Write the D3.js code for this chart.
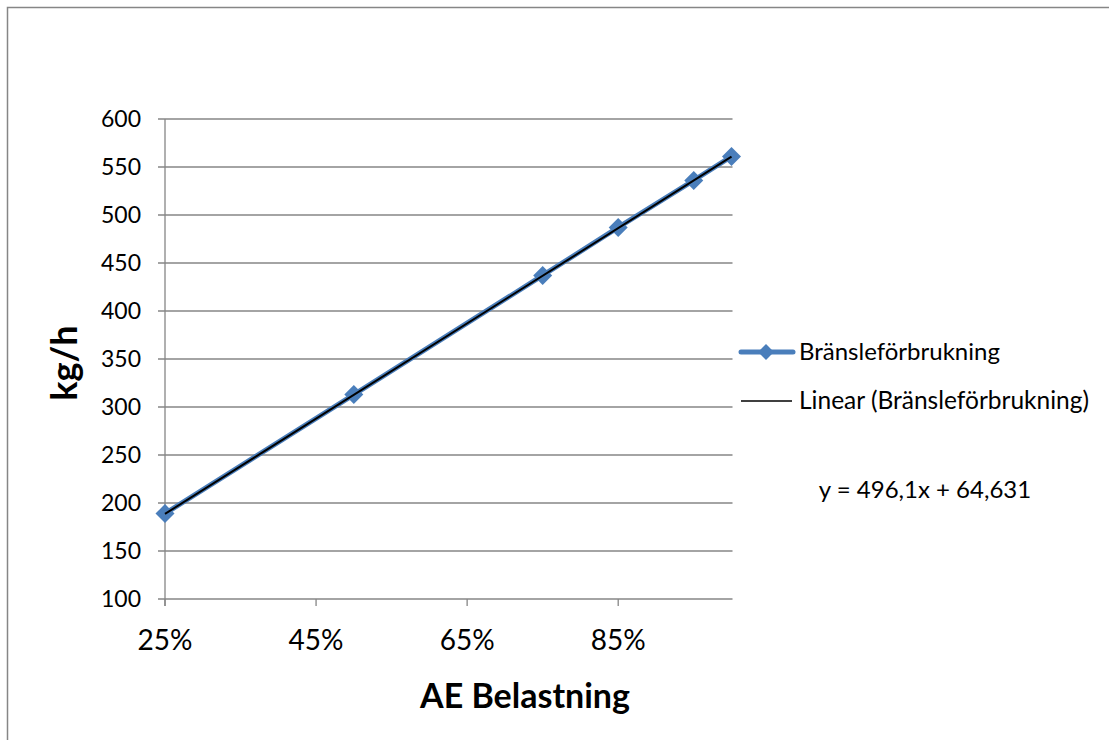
<!DOCTYPE html>
<html><head><meta charset="utf-8">
<script src="https://cdn.jsdelivr.net/npm/d3@7"></script>
<style>body{margin:0;background:#fff}svg{display:block}text{font-family:Lato,"Open Sans",sans-serif}</style>
</head><body><svg id="c" width="1109" height="740"></svg>
<script>
const loads = [0.25, 0.50, 0.75, 0.85, 0.95, 1.00];
const fuel = [189, 313, 437, 487, 536, 561];
const yTicks = [100,150,200,250,300,350,400,450,500,550,600];
const xTicks = [0.25,0.45,0.65,0.85];
const slope = 496.1, intercept = 64.631;
const seriesName = "Bränsleförbrukning";
const trendName = "Linear (Bränsleförbrukning)";
const equation = "y = 496,1x + 64,631";

const svg = d3.select("#c");
svg.append("rect").attr("x",7.5).attr("y",7.5).attr("width",1120).attr("height",760)
  .attr("fill","#fff").attr("stroke","#868686").attr("stroke-width",1.5);

const x = d3.scaleLinear().domain([0.25,1.0]).range([165,731.5]);
const y = d3.scaleLinear().domain([100,600]).range([599,119]);

const g = svg.append("g");
g.selectAll(".grid").data(yTicks).join("line")
  .attr("x1",158).attr("x2",732.5).attr("y1",d=>y(d)).attr("y2",d=>y(d))
  .attr("stroke","#868686").attr("stroke-width",1.3);
g.append("line").attr("x1",165).attr("x2",165).attr("y1",119).attr("y2",606)
  .attr("stroke","#868686").attr("stroke-width",1.3);
g.selectAll(".xt").data(xTicks).join("line")
  .attr("x1",d=>x(d)).attr("x2",d=>x(d)).attr("y1",599).attr("y2",606)
  .attr("stroke","#868686").attr("stroke-width",1.3);
g.selectAll(".yl").data(yTicks).join("text")
  .attr("x",141).attr("y",d=>y(d)+8).attr("text-anchor","end")
  .attr("font-size",23).attr("fill","#000").text(d=>d);
g.selectAll(".xl").data(xTicks).join("text")
  .attr("x",d=>x(d)).attr("y",650).attr("text-anchor","middle")
  .attr("font-size",28).attr("fill","#000").text(d=>d3.format(".0%")(d));
svg.append("text").attr("x",525).attr("y",708).attr("text-anchor","middle")
  .attr("font-size",34).attr("font-weight","bold").text("AE Belastning");
svg.append("text").attr("transform","translate(77,363) rotate(-90)").attr("text-anchor","middle")
  .attr("font-size",36).attr("font-weight","bold").text("kg/h");

const data = loads.map((l,i)=>({x:l,y:fuel[i]}));
const blue = "#4A7EBB";
g.append("path").datum(data).attr("fill","none").attr("stroke",blue).attr("stroke-width",5)
  .attr("stroke-linejoin","round")
  .attr("d",d3.line().x(d=>x(d.x)).y(d=>y(d.y)));
const diamond = d3.symbol().type(d3.symbolDiamond2).size(230);
g.selectAll(".pt").data(data).join("path")
  .attr("transform",d=>`translate(${x(d.x)},${y(d.y)})`)
  .attr("d",diamond).attr("fill",blue);
const tr = [0.25,1.0].map(v=>({x:v,y:slope*v+intercept}));
g.append("path").datum(tr).attr("fill","none").attr("stroke","#000").attr("stroke-width",2)
  .attr("d",d3.line().x(d=>x(d.x)).y(d=>y(d.y)));

const lg = svg.append("g");
lg.append("line").attr("x1",741).attr("x2",793).attr("y1",352).attr("y2",352)
  .attr("stroke",blue).attr("stroke-width",5).attr("stroke-linecap","round");
lg.append("path").attr("transform","translate(766,352)").attr("d",d3.symbol().type(d3.symbolDiamond2).size(160)).attr("fill",blue);
lg.append("text").attr("x",799).attr("y",360).attr("font-size",24).text(seriesName);
lg.append("line").attr("x1",741).attr("x2",792).attr("y1",401).attr("y2",401)
  .attr("stroke","#000").attr("stroke-width",1.5);
lg.append("text").attr("x",799).attr("y",409).attr("font-size",24.5).text(trendName);
svg.append("text").attr("x",925).attr("y",498).attr("text-anchor","middle").attr("font-size",24).text(equation);
</script></body></html>
